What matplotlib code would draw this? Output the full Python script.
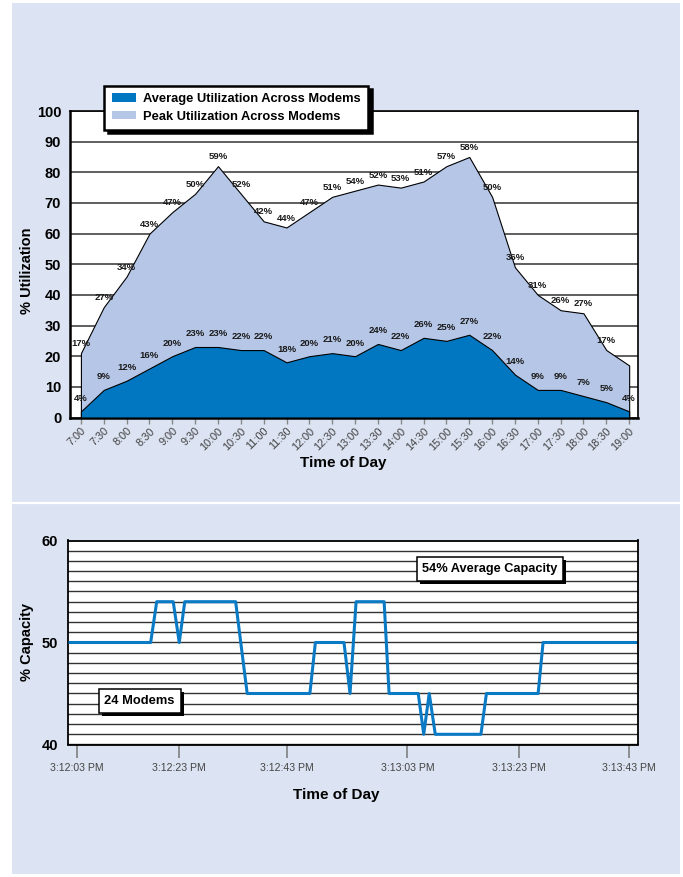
import matplotlib
matplotlib.use('Agg')
import matplotlib.pyplot as plt
from matplotlib.patches import Patch, Rectangle
from matplotlib.lines import Line2D
from matplotlib.ticker import MultipleLocator
import matplotlib.patheffects as pe
import numpy as np

plt.rcParams['font.family'] = ['Liberation Sans', 'DejaVu Sans']

# ---------------- data: top chart ----------------
times = ['7:00', '7:30', '8:00', '8:30', '9:00', '9:30', '10:00', '10:30', '11:00',
         '11:30', '12:00', '12:30', '13:00', '13:30', '14:00', '14:30', '15:00',
         '15:30', '16:00', '16:30', '17:00', '17:30', '18:00', '18:30', '19:00']
avg_values = [2, 9, 12, 16, 20, 23, 23, 22, 22, 18, 20, 21, 20, 24, 22, 26, 25, 27,
              22, 14, 9, 9, 7, 5, 2]
peak_values = [21, 36, 46, 60, 67, 73, 82, 73, 64, 62, 67, 72, 74, 76, 75, 77, 82, 85,
               72, 49, 40, 35, 34, 22, 17]
avg_labels = [4, 9, 12, 16, 20, 23, 23, 22, 22, 18, 20, 21, 20, 24, 22, 26, 25, 27,
              22, 14, 9, 9, 7, 5, 4]
peak_labels = [17, 27, 34, 43, 47, 50, 59, 52, 42, 44, 47, 51, 54, 52, 53, 51, 57, 58,
               50, 36, 31, 26, 27, 17, None]
legend_labels = ['Average Utilization Across Modems', 'Peak Utilization Across Modems']

# ---------------- data: bottom chart ----------------
cap_x = [-1.2, 13.45, 14.55, 17.55, 18.65, 19.65, 28.9, 31.0, 42.4, 43.4, 48.6, 49.7,
         50.8, 55.9, 56.8, 62.1, 63.1, 64.1, 65.2, 73.5, 74.5, 83.9, 84.8, 101.6]
cap_values = [50, 50, 54, 54, 50, 54, 54, 45, 45, 50, 50, 45,
              54, 54, 45, 45, 41, 45, 41, 41, 45, 45, 50, 50]
cap_tick_pos = [0, 18.67, 38.18, 60.12, 80.48, 100.48]
cap_tick_labels = ['3:12:03 PM', '3:12:23 PM', '3:12:43 PM', '3:13:03 PM',
                   '3:13:23 PM', '3:13:43 PM']
avg_capacity_text = '54% Average Capacity'
modems_text = '24 Modems'

AVG_COLOR = '#0077c0'
PEAK_COLOR = '#b5c6e6'
LINE_COLOR = '#0a7ac4'
BG = '#dce3f2'

W, H = 683, 877
fig = plt.figure(figsize=(W / 100, H / 100), dpi=100, facecolor='white')
fig.patches.append(Rectangle((12 / W, 1 - 874 / H), 668 / W, 871 / H,
                             transform=fig.transFigure, facecolor=BG,
                             edgecolor='none', zorder=-10))
fig.add_artist(Line2D([12 / W, 680 / W], [1 - 503 / H] * 2, color='white', lw=1.6,
                      transform=fig.transFigure))

shadow_fx = [pe.SimplePatchShadow(offset=(2.2, -2.2), shadow_rgbFace='black', alpha=1.0),
             pe.Normal()]

# ================= top chart =================
ax1 = fig.add_axes([69.5 / W, 1 - 417.5 / H, 568.8 / W, 306.5 / H])
ax1.set_facecolor('white')
x = np.arange(len(times))
ax1.fill_between(x, 0, peak_values, facecolor=PEAK_COLOR, edgecolor='black',
                 linewidth=0.8, zorder=2)
ax1.fill_between(x, 0, avg_values, facecolor=AVG_COLOR, edgecolor='black',
                 linewidth=0.8, zorder=3)
ax1.set_xlim(-0.5, 24.4)
ax1.set_ylim(0, 100)
ax1.set_yticks(range(0, 101, 10))
ax1.set_axisbelow(True)
ax1.grid(axis='y', color='#333333', lw=1.1)
for s in ax1.spines.values():
    s.set_color('black')
    s.set_linewidth(1.2)
ax1.spines['left'].set_linewidth(1.8)
ax1.spines['bottom'].set_linewidth(1.8)

for xv, v, l in zip(x, peak_values, peak_labels):
    if l is None:
        continue
    ax1.annotate(f'{l}%', (xv, v), xytext=(0, 6.8), textcoords='offset points',
                 ha='center', va='center', fontsize=6.8, fontweight='bold',
                 color='#1a1a1a', zorder=5)
for xv, v, l in zip(x, avg_values, avg_labels):
    ax1.annotate(f'{l}%', (xv, v), xytext=(0, 9.5), textcoords='offset points',
                 ha='center', va='center', fontsize=6.8, fontweight='bold',
                 color='#1a1a1a', zorder=5)

ax1.set_xticks(x, times, rotation=45, ha='right', rotation_mode='anchor',
               fontsize=7.8, color='#404040')
ax1.tick_params(axis='x', length=4, width=1, color='#888888', pad=2)
ax1.tick_params(axis='y', length=0, pad=6, labelsize=10.5)
for lbl in ax1.get_yticklabels():
    lbl.set_fontweight('bold')

ax1.set_ylabel('% Utilization', fontsize=10.5, fontweight='bold')
ax1.yaxis.set_label_coords(-0.0747, 0.48)
ax1.yaxis.label.set_verticalalignment('center')
ax1.set_xlabel('Time of Day', fontsize=11, fontweight='bold')
ax1.xaxis.set_label_coords(0.4817, -0.1485)
ax1.xaxis.label.set_verticalalignment('center')

handles = [Patch(facecolor=AVG_COLOR, edgecolor='none', label=legend_labels[0]),
           Patch(facecolor=PEAK_COLOR, edgecolor='none', label=legend_labels[1])]
leg = ax1.legend(handles=handles, loc='upper left',
                 bbox_to_anchor=(104.3 / W, 1 - 85.7 / H), bbox_transform=fig.transFigure,
                 borderaxespad=0, frameon=True, fancybox=False, edgecolor='black',
                 framealpha=1, prop={'weight': 'bold', 'size': 9.3},
                 handlelength=1.86, handleheight=0.62, handletextpad=0.6,
                 labelspacing=0.43, borderpad=0.57,
                 shadow={'color': 'black', 'alpha': 1, 'ox': 2.5, 'oy': -2.5})
leg.get_frame().set_linewidth(1.8)
leg.set_zorder(10)

# ================= bottom chart =================
ax2 = fig.add_axes([68 / W, 1 - 744.5 / H, 569.5 / W, 204 / H])
ax2.set_facecolor('white')
ax2.plot(cap_x, cap_values, color=LINE_COLOR, lw=2.2, zorder=3)
ax2.set_xlim(-1.58, 101.97)
ax2.set_ylim(40, 60)
ax2.set_yticks([40, 50, 60])
ax2.yaxis.set_minor_locator(MultipleLocator(1))
ax2.set_axisbelow(True)
ax2.grid(axis='y', which='both', color='#333333', lw=1.0)
for s in ax2.spines.values():
    s.set_color('black')
    s.set_linewidth(1.3)
ax2.tick_params(axis='y', which='both', length=0, pad=7, labelsize=10.5)
for lbl in ax2.get_yticklabels():
    lbl.set_fontweight('bold')
ax2.set_xticks(cap_tick_pos, cap_tick_labels)
ax2.tick_params(axis='x', length=9, width=1.1, color='#777777', pad=4.5,
                labelsize=7.6, labelcolor='#444444')

ax2.set_ylabel('% Capacity', fontsize=10.5, fontweight='bold')
ax2.yaxis.set_label_coords(-0.072, 0.502)
ax2.yaxis.label.set_verticalalignment('center')
ax2.set_xlabel('Time of Day', fontsize=11, fontweight='bold')
ax2.xaxis.set_label_coords(0.4706, -0.2475)
ax2.xaxis.label.set_verticalalignment('center')

t1 = ax2.text(0.741, 0.860, avg_capacity_text, transform=ax2.transAxes, ha='center',
              va='center', fontsize=9.2, fontweight='bold', zorder=6,
              bbox=dict(boxstyle='square,pad=0.45', facecolor='white',
                        edgecolor='black', linewidth=1.1))
t1.get_bbox_patch().set_path_effects(shadow_fx)
t2 = ax2.text(0.1256, 0.213, modems_text, transform=ax2.transAxes, ha='center',
              va='center', fontsize=9.3, fontweight='bold', zorder=6,
              bbox=dict(boxstyle='square,pad=0.45', facecolor='white',
                        edgecolor='black', linewidth=1.1))
t2.get_bbox_patch().set_path_effects(shadow_fx)

fig.savefig('out.png', dpi=100, facecolor='white')
